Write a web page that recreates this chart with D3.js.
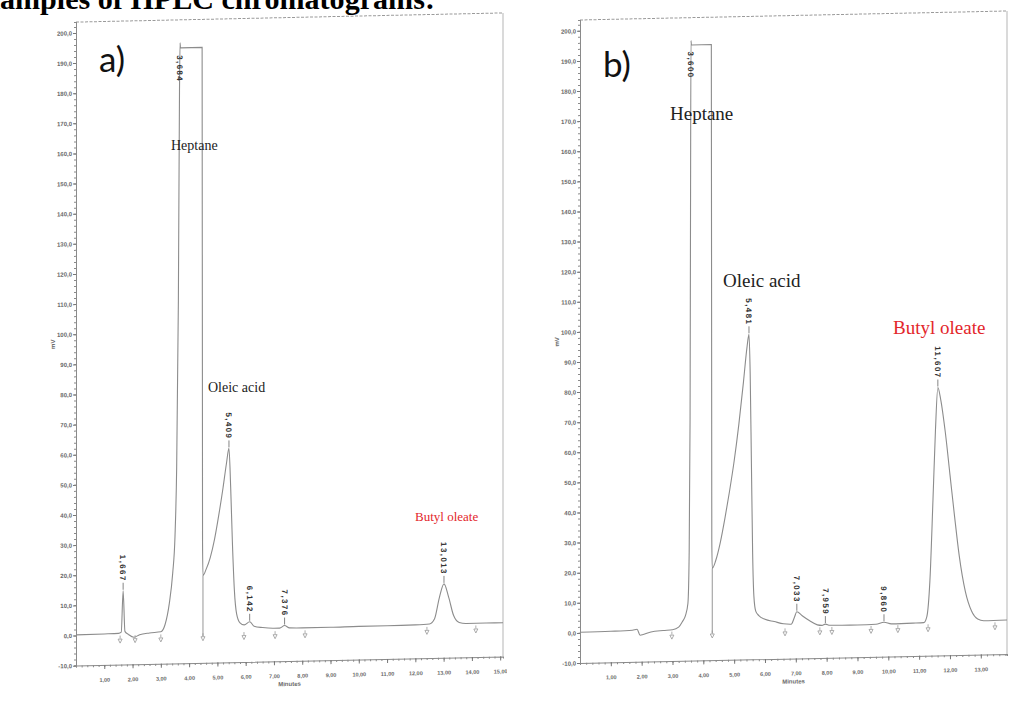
<!DOCTYPE html>
<html>
<head>
<meta charset="utf-8">
<script src="https://cdn.jsdelivr.net/npm/d3@7/dist/d3.min.js"></script>
<style>
  html, body { margin: 0; padding: 0; background: #fff; }
  svg { display: block; }
</style>
</head>
<body>
<svg id="chart" width="1015" height="708"></svg>
<script>
// ---- Run a: retention time (min) vs detector signal (mV) ----
const timeA = [0.0, 1.0, 1.5, 1.6, 1.667, 1.73, 1.85, 2.05, 2.25, 2.6, 3.0, 3.15, 3.3, 3.42, 3.5, 3.56, 3.62, 3.66, 3.68, 3.695,
  4.46, 4.475, 4.49, 4.6, 4.75, 4.9, 5.05, 5.2, 5.32, 5.409, 5.47, 5.53, 5.6, 5.68, 5.8, 5.95, 6.142, 6.3, 6.6, 7.0, 7.2, 7.376, 7.55,
  8.0, 9.0, 10.0, 11.0, 12.0, 12.5, 12.68, 12.85, 13.013, 13.18, 13.35, 13.55, 13.8, 14.5, 15.1];
const signalA = [0.2, 0.3, 0.4, 0.8, 14.5, 1.0, 0.0, -1.0, -0.2, 0.3, 0.6, 3, 10, 20, 32, 55, 110, 180, 196, 194.3,
  194.3, 30, 19, 21, 25, 31, 39, 48, 56, 61, 48, 30, 14, 6, 3, 2.3, 3.3, 1.8, 1.3, 1.0, 1.0, 1.8, 1.0,
  0.9, 0.9, 1.0, 1.0, 1.1, 1.3, 3, 10, 14.5, 10, 4, 1.6, 1.2, 1.2, 1.2];
const peakTimesA = [1.667, 3.684, 5.409, 6.142, 7.376, 13.013];
const peakLabelsA = ["1,667", "3,684", "5,409", "6,142", "7,376", "13,013"];
const eventTimesA = [1.56, 2.09, 3.0, 4.49, 5.94, 7.04, 8.1, 12.41, 14.14];
const dropTimesA = [4.49];

// ---- Run b ----
const timeB = [0.0, 1.0, 1.7, 1.85, 1.95, 2.05, 2.3, 2.7, 3.0, 3.2, 3.32, 3.42, 3.5, 3.54, 3.57, 3.585, 3.6, 3.615,
  4.26, 4.275, 4.29, 4.4, 4.55, 4.7, 4.85, 5.0, 5.15, 5.3, 5.42, 5.481, 5.52, 5.56, 5.6, 5.64, 5.7, 5.8, 6.0, 6.3, 6.6, 6.85,
  6.95, 7.033, 7.2, 7.45, 7.7, 7.85, 7.959, 8.1, 8.5, 9.0, 9.6, 9.86, 10.1, 10.8, 11.15, 11.25, 11.35, 11.45, 11.53, 11.607,
  11.7, 11.85, 12.0, 12.15, 12.3, 12.5, 12.7, 12.9, 13.1, 13.85];
const signalB = [0.2, 0.3, 0.5, 0.8, -1.2, -1.0, -0.2, 0.2, 0.4, 1.2, 3, 5, 9, 25, 70, 140, 196, 194.5,
  194.5, 30, 20.5, 23, 29, 37, 46, 56, 68, 82, 94, 98, 85, 55, 25, 11, 6, 4.5, 3.2, 2.4, 1.6, 1.4,
  3.5, 5.5, 4.2, 2.4, 1.0, 0.8, 1.2, 0.8, 0.7, 0.7, 0.8, 1.4, 0.8, 0.9, 1.0, 3, 15, 42, 65, 79,
  75, 64, 50, 36, 23, 11, 4.5, 1.8, 1.2, 1.3];
const peakTimesB = [3.600, 5.481, 7.033, 7.959, 9.860, 11.607];
const peakLabelsB = ["3,600", "5,481", "7,033", "7,959", "9,860", "11,607"];
const eventTimesB = [2.98, 4.29, 6.65, 7.78, 8.17, 9.44, 10.31, 11.29, 13.46];
const dropTimesB = [4.29];

// ---- Axis ticks and names ----
const yDomain = [-10, 203.6];
const yTicks = d3.range(-10, 201, 10);
const yMinorTicks = d3.range(-10, 203, 2);
const xTicksA = d3.range(1, 16, 1);
const xTicksB = d3.range(1, 14, 1);
const compoundNames = ["Heptane", "Oleic acid", "Butyl oleate"];
const runNames = ["a)", "b)"];
const yUnit = "mV";
const xUnit = "Minutes";
const titleText = "Examples of HPLC chromatograms:";

const svg = d3.select("#chart");
svg.append("rect").attr("width", 1015).attr("height", 708).attr("fill", "#fff");
const defs = svg.append("defs");

const traceColor = "#8c8c8c";
const axisColor = "#8a8a8a";
const tickText = "#6a6a6a";

function interp(ts, vs, t) {
  const i = d3.bisectLeft(ts, t);
  if (i <= 0) return vs[0];
  if (i >= ts.length) return vs[vs.length - 1];
  const t0 = ts[i - 1], t1 = ts[i];
  return vs[i - 1] + (vs[i] - vs[i - 1]) * (t - t0) / (t1 - t0);
}

function drawPanel(p) {
  defs.append("clipPath").attr("id", p.id + "-clip")
    .append("rect").attr("x", p.clip[0]).attr("y", 0).attr("width", p.clip[1] - p.clip[0]).attr("height", 708);
  const outer = svg.append("g").attr("clip-path", `url(#${p.id}-clip)`);
  // the scanned panel is slightly tilted: right side sits higher
  const g = outer.append("g").attr("transform", `matrix(1,${p.shear},0,1,0,${-p.shear * p.cx})`);

  const x = d3.scaleLinear().domain(p.xDomain).range(p.xRange);
  const y = d3.scaleLinear().domain(yDomain).range(p.yRange);
  const [x0, x1] = p.xRange;
  const [yb, yt] = p.yRange;

  // frame (top + right)
  g.append("line").attr("x1", x0).attr("x2", x1).attr("y1", yt).attr("y2", yt)
    .attr("stroke", "#9a9a9a").attr("stroke-width", 1).attr("stroke-dasharray", "3,1.5");
  g.append("line").attr("x1", x1).attr("x2", x1).attr("y1", yt).attr("y2", yb)
    .attr("stroke", "#b5b5b5").attr("stroke-width", 1);

  // y axis: minor ruler + labelled ticks
  g.append("g").attr("transform", `translate(${x0},0)`)
    .call(d3.axisLeft(y).tickValues(yMinorTicks).tickSize(2).tickFormat(""))
    .call(a => a.select(".domain").attr("stroke", axisColor))
    .call(a => a.selectAll(".tick line").attr("stroke", axisColor));
  g.append("g").attr("transform", `translate(${x0},0)`)
    .call(d3.axisLeft(y).tickValues(yTicks).tickSize(3).tickPadding(1)
      .tickFormat(v => v.toFixed(1).replace(".", ",")))
    .call(a => a.select(".domain").remove())
    .call(a => a.selectAll(".tick line").attr("stroke", "#777"))
    .call(a => a.selectAll(".tick text").attr("fill", tickText).attr("font-size", 6)
      .attr("font-weight", "bold").attr("font-family", "Liberation Sans, Arial, sans-serif"));

  // x axis
  g.append("g").attr("transform", `translate(0,${yb})`)
    .call(d3.axisBottom(x).tickValues(d3.range(p.xDomain[0], p.xDomain[1], 0.2)).tickSize(2).tickFormat(""))
    .call(a => a.select(".domain").attr("stroke", axisColor))
    .call(a => a.selectAll(".tick line").attr("stroke", axisColor));
  g.append("g").attr("transform", `translate(0,${yb})`)
    .call(d3.axisBottom(x).tickValues(p.xTicks).tickSize(4).tickPadding(9)
      .tickFormat(v => v.toFixed(2).replace(".", ",")))
    .call(a => a.select(".domain").remove())
    .call(a => a.selectAll(".tick line").attr("stroke", "#777"))
    .call(a => a.selectAll(".tick text").attr("fill", tickText).attr("font-size", 5.5)
      .attr("font-weight", "bold").attr("font-family", "Liberation Sans, Arial, sans-serif"));

  g.append("text").attr("x", (x0 + x1) / 2).attr("y", yb + 25).attr("text-anchor", "middle")
    .attr("font-size", 6).attr("font-weight", "bold").attr("fill", tickText)
    .attr("font-family", "Liberation Sans, Arial, sans-serif").text(xUnit);
  g.append("text").attr("transform", `translate(${x0 - 21},${(yb + yt) / 2}) rotate(-90)`)
    .attr("text-anchor", "middle").attr("font-size", 6).attr("font-weight", "bold").attr("fill", tickText)
    .attr("font-family", "Liberation Sans, Arial, sans-serif").text(yUnit);

  // baseline drift used for event marks
  const base = t => p.signal[0] + (p.signal[p.signal.length - 1] - p.signal[0]) * (t - p.xDomain[0]) / (p.xDomain[1] - p.xDomain[0]);

  // drop lines from valley to baseline
  p.drops.forEach(t => {
    g.append("line").attr("x1", x(t)).attr("x2", x(t))
      .attr("y1", y(interp(p.time, p.signal, t))).attr("y2", y(base(t)) + 5)
      .attr("stroke", traceColor).attr("stroke-width", 0.9);
  });

  // chromatogram trace
  const line = d3.line().x((d, i) => x(p.time[i])).y(d => y(d)).curve(d3.curveMonotoneX);
  g.append("path").datum(p.signal).attr("d", line)
    .attr("fill", "none").attr("stroke", traceColor).attr("stroke-width", 1.1);

  // integration event marks under the baseline
  p.events.forEach(t => {
    const ex = x(t), ey = y(base(t));
    g.append("line").attr("x1", ex).attr("x2", ex).attr("y1", ey + 2).attr("y2", ey + 5)
      .attr("stroke", "#999").attr("stroke-width", 0.8);
    g.append("path").attr("d", `M${ex - 2},${ey + 5.5}L${ex + 2},${ey + 5.5}L${ex},${ey + 9.5}Z`)
      .attr("fill", "none").attr("stroke", "#999").attr("stroke-width", 0.8);
  });

  // retention time labels at the peak apexes
  p.peaks.forEach((t, i) => {
    const v = interp(p.time, p.signal, t);
    const px = x(t), py = y(v);
    const clipped = v > 190;
    if (!clipped) {
      g.append("line").attr("x1", px).attr("x2", px).attr("y1", py - 1).attr("y2", py - 8)
        .attr("stroke", "#666").attr("stroke-width", 0.8);
    }
    g.append("text")
      .attr("transform", `translate(${px},${clipped ? py + 11 : py - 9}) rotate(90)`)
      .attr("text-anchor", clipped ? "start" : "end").attr("dy", "0.35em")
      .attr("font-size", 8).attr("font-weight", "bold").attr("letter-spacing", 1.4)
      .attr("fill", "#333").attr("font-family", "Liberation Sans, Arial, sans-serif")
      .text(p.labels[i]);
  });
}

drawPanel({
  id: "runA", clip: [0, 507], shear: -0.0214, cx: 290,
  xDomain: [0, 15.1], xRange: [76, 503], yRange: [661, 17.5], xTicks: xTicksA,
  time: timeA, signal: signalA, peaks: peakTimesA, labels: peakLabelsA, events: eventTimesA, drops: dropTimesA
});
drawPanel({
  id: "runB", clip: [520, 1015], shear: -0.021, cx: 793,
  xDomain: [0, 13.85], xRange: [580, 1007], yRange: [658.5, 15.5], xTicks: xTicksB,
  time: timeB, signal: signalB, peaks: peakTimesB, labels: peakLabelsB, events: eventTimesB, drops: dropTimesB
});

// ---- Panel letters and compound names ----
const serif = "Liberation Serif, Times New Roman, serif";
const letterFont = "Lato, Open Sans, sans-serif";
svg.append("text").attr("x", 99).attr("y", 72).attr("font-size", 35).attr("font-family", letterFont).attr("fill", "#111").text(runNames[0]);
svg.append("text").attr("x", 603).attr("y", 77).attr("font-size", 35).attr("font-family", letterFont).attr("fill", "#111").text(runNames[1]);

const nameStyle = [
  { x: 171, y: 150, s: 14, c: "#222" }, { x: 208, y: 392, s: 14, c: "#222" }, { x: 415, y: 521, s: 13, c: "#e3262b" },
  { x: 670, y: 120, s: 19, c: "#222" }, { x: 723, y: 287, s: 19, c: "#222" }, { x: 893, y: 334, s: 19, c: "#e3262b" }
];
nameStyle.forEach((st, i) => {
  svg.append("text").attr("x", st.x).attr("y", st.y).attr("font-size", st.s)
    .attr("font-family", serif).attr("fill", st.c).text(compoundNames[i % 3]);
});

// ---- Heading, cut off at the top edge ----
const title = svg.append("text").attr("y", 9).attr("font-family", serif).attr("font-weight", "bold")
  .attr("font-size", 30).attr("fill", "#000").text(titleText);
const probe = svg.append("text").attr("font-family", serif).attr("font-weight", "bold").attr("font-size", 30).text("Ex");
const fullW = title.node().getComputedTextLength();
const preW = probe.node().getComputedTextLength();
const fs = 30 * 435 / (fullW - preW);
title.attr("font-size", fs);
probe.attr("font-size", fs);
title.attr("x", -probe.node().getComputedTextLength());
probe.remove();
</script>
</body>
</html>
